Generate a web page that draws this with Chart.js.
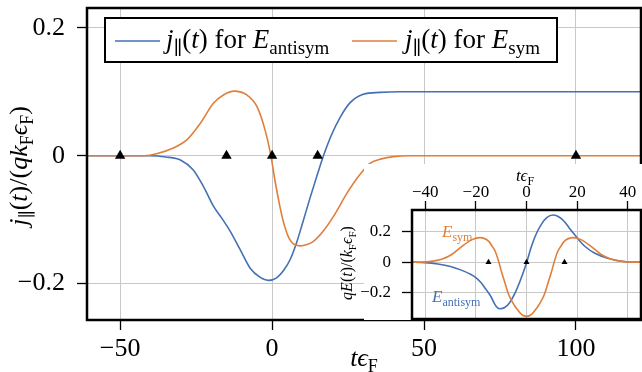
<!DOCTYPE html>
<html>
<head>
<meta charset="utf-8">
<script src="https://cdn.jsdelivr.net/npm/chart.js@4.4.1/dist/chart.umd.min.js"></script>
<style>
  html, body { margin: 0; padding: 0; background: #fff; }
  #wrap { position: relative; width: 642px; height: 372px; }
  #main { position: absolute; left: 0; top: 0; }
  #inset { position: absolute; left: 336px; top: 162px; }
</style>
</head>
<body>
<div id="wrap">
  <canvas id="main" width="642" height="372"></canvas>
  <canvas id="inset" width="306" height="160"></canvas>
</div>
<script>
// main panel: j_par(t) / (q kF eF) for the two pulses
const tAnti = [-61, -40, -35, -30, -26, -22.6, -19.3, -16.5, -13.8, -10.5, -7.2, -4, -1.2, 1.5, 4, 6, 8, 10, 12.5, 15, 17, 19.5, 22.4, 25.7, 30, 35.5, 42, 50, 122];
const jAnti = [0, 0, -0.002, -0.007, -0.022, -0.048, -0.079, -0.098, -0.118, -0.147, -0.176, -0.19, -0.195, -0.191, -0.178, -0.162, -0.137, -0.106, -0.066, -0.028, 0.001, 0.032, 0.06, 0.083, 0.096, 0.099, 0.1, 0.1, 0.1];
const tSym = [-61, -42, -38, -32.5, -28, -23.7, -19.3, -16, -12.5, -8.3, -5, -2.3, -0.4, 1, 2.6, 3.7, 4.8, 5.8, 7, 9.2, 11.5, 13.6, 17, 20.2, 24.6, 26.8, 29.5, 32.2, 36, 40, 45, 122];
const jSym = [0, 0, 0.003, 0.012, 0.025, 0.05, 0.082, 0.095, 0.101, 0.095, 0.077, 0.04, 0, -0.04, -0.08, -0.103, -0.12, -0.131, -0.138, -0.141, -0.139, -0.134, -0.117, -0.095, -0.059, -0.043, -0.026, -0.012, -0.005, -0.0015, 0, 0];
const tMarks = [-50, -15, 0, 15, 100];
const yMarks = [0, 0, 0, 0, 0];
const xTicks = [-50, 0, 50, 100];
const yTicks = [-0.2, 0, 0.2];

// inset: field qE(t) / (kF eF)
const tESym = [-46, -38.5, -33.5, -29.5, -25.5, -21.5, -18.4, -14.8, -13.6, -12.2, -10.9, -9.9, -8.5, -7, -5.5, -4, -2, 0, 2, 4, 5.5, 7, 8.5, 9.9, 10.9, 12.2, 13.6, 14.8, 18.4, 21.5, 25.5, 29.5, 33.5, 38.5, 46];
const eSym = [0, 0.004, 0.019, 0.05, 0.103, 0.147, 0.16, 0.134, 0.105, 0.065, 0, -0.061, -0.135, -0.212, -0.262, -0.3, -0.34, -0.353, -0.34, -0.3, -0.262, -0.212, -0.135, -0.061, 0, 0.065, 0.105, 0.134, 0.16, 0.147, 0.103, 0.05, 0.019, 0.004, 0];
const tEAnti = [-46, -40, -35, -30, -26, -22.4, -20, -18, -16, -14, -12.5, -11.5, -10.5, -8.6, -6.6, -4.5, -2.6, 0, 2, 4, 6, 8, 10.5, 13, 15.1, 17, 19.1, 21, 23, 27, 32, 38.5, 46];
const eAnti = [0, -0.003, -0.012, -0.028, -0.05, -0.076, -0.1, -0.132, -0.177, -0.225, -0.275, -0.296, -0.303, -0.295, -0.262, -0.2, -0.126, -0.005, 0.105, 0.19, 0.25, 0.29, 0.307, 0.293, 0.262, 0.22, 0.177, 0.138, 0.104, 0.058, 0.026, 0.005, 0];
const tMarksInset = [-15, 0, 15];
const yMarksInset = [0, 0, 0];
const xTicksInset = [-40, -20, 0, 20, 40];
const yTicksInset = [-0.2, 0, 0.2];

const serif = "'Liberation Serif', 'Times New Roman', 'DejaVu Serif', serif";
const blue = '#4470b5';
const orange = '#e07f3c';
const gridGray = '#c8c8c8';

function pts(xs, ys) { return xs.map((x, i) => ({ x: x, y: ys[i] })); }
function minus(v) { return String(v).replace('-', '\u2212'); }

// draws text made of pieces: 'i' italic, 'r' roman, 'si'/'sr' subscript
function drawRich(ctx, parts, x, y, size, align) {
  const fontFor = st => {
    const sub = st[0] === 's';
    return (st.endsWith('i') ? 'italic ' : '') + Math.round(sub ? size * 0.7 : size) + 'px ' + serif;
  };
  let w = 0;
  parts.forEach(p => { ctx.font = fontFor(p[1]); w += ctx.measureText(p[0]).width; });
  let cx = align === 'center' ? x - w / 2 : x;
  ctx.textAlign = 'left';
  ctx.textBaseline = 'alphabetic';
  parts.forEach(p => {
    ctx.font = fontFor(p[1]);
    ctx.fillText(p[0], cx, p[1][0] === 's' ? y + size * 0.22 : y);
    cx += ctx.measureText(p[0]).width;
  });
}

function lineSet(xs, ys, color, order) {
  return { data: pts(xs, ys), borderColor: color, borderWidth: 1.6, pointRadius: 0,
           cubicInterpolationMode: 'monotone', fill: false, order: order };
}
function markSet(xs, ys, r) {
  return { data: pts(xs, ys), showLine: false, pointStyle: 'triangle', pointRadius: r,
           pointBackgroundColor: '#000', pointBorderColor: '#000', pointBorderWidth: 0, order: 0 };
}
function axis(min, max, ticks, size, tickLen, pad, fitSize) {
  return {
    type: 'linear', min: min, max: max,
    afterBuildTicks: s => { s.ticks = ticks.map(v => ({ value: v })); },
    afterFit: s => {
      if (s.isHorizontal()) s.height = fitSize; else s.width = fitSize;
      s.paddingTop = s.paddingBottom = s.paddingLeft = s.paddingRight = 0;
    },
    grid: { color: gridGray, lineWidth: 1, tickColor: '#000', tickLength: tickLen, tickWidth: 1.3 },
    border: { display: false },
    ticks: { font: { family: serif, size: size, lineHeight: 1 }, color: '#000', padding: pad,
             maxRotation: 0, autoSkip: false, callback: v => minus(v) }
  };
}

const mainDeco = {
  id: 'mainDeco',
  afterDraw(chart) {
    const ctx = chart.ctx, a = chart.chartArea;
    ctx.save();
    ctx.strokeStyle = '#000';
    ctx.lineWidth = 2.5;
    ctx.strokeRect(a.left, a.top, a.right - a.left, a.bottom - a.top);
    ctx.fillStyle = '#000';
    drawRich(ctx, [['t', 'i'], ['\u03f5', 'i'], ['F', 'sr']], 364, 366, 26, 'center');
    ctx.translate(27, 166);
    ctx.rotate(-Math.PI / 2);
    drawRich(ctx, [['j', 'i'], ['\u2225', 'sr'], ['(', 'r'], ['t', 'i'], [')/(', 'r'], ['qk', 'i'], ['F', 'sr'],
                   ['\u03f5', 'i'], ['F', 'sr'], [')', 'r']], 0, 0, 26, 'center');
    ctx.restore();

    // legend
    ctx.save();
    ctx.fillStyle = '#fff';
    ctx.fillRect(105, 18, 452, 44);
    ctx.strokeStyle = '#000';
    ctx.lineWidth = 2;
    ctx.strokeRect(105, 18, 452, 44);
    ctx.lineWidth = 1.6;
    ctx.strokeStyle = blue;
    ctx.beginPath(); ctx.moveTo(115, 41); ctx.lineTo(160, 41); ctx.stroke();
    ctx.strokeStyle = orange;
    ctx.beginPath(); ctx.moveTo(352, 41); ctx.lineTo(397, 41); ctx.stroke();
    ctx.fillStyle = '#000';
    drawRich(ctx, [['j', 'i'], ['\u2225', 'sr'], ['(', 'r'], ['t', 'i'], [') for ', 'r'], ['E', 'i'], ['antisym', 'sr']], 166, 48, 27, 'left');
    drawRich(ctx, [['j', 'i'], ['\u2225', 'sr'], ['(', 'r'], ['t', 'i'], [') for ', 'r'], ['E', 'i'], ['sym', 'sr']], 405, 48, 27, 'left');
    ctx.restore();
  }
};

const insetDeco = {
  id: 'insetDeco',
  beforeDraw(chart) {
    // white patch that hides the main grid behind the inset
    const ctx = chart.ctx;
    ctx.save();
    ctx.fillStyle = '#fff';
    ctx.fillRect(28, 2, 278, 156);
    ctx.restore();
  },
  afterDraw(chart) {
    const ctx = chart.ctx, a = chart.chartArea;
    ctx.save();
    ctx.strokeStyle = '#000';
    ctx.lineWidth = 2.5;
    ctx.strokeRect(a.left, a.top, a.right - a.left, a.bottom - a.top);
    ctx.fillStyle = orange;
    drawRich(ctx, [['E', 'i'], ['sym', 'sr']], 106, 75, 17, 'left');
    ctx.fillStyle = blue;
    drawRich(ctx, [['E', 'i'], ['antisym', 'sr']], 96, 140, 17, 'left');
    ctx.fillStyle = '#000';
    drawRich(ctx, [['t', 'i'], ['\u03f5', 'i'], ['F', 'sr']], 189, 19, 17, 'center');
    ctx.translate(16, 101);
    ctx.rotate(-Math.PI / 2);
    drawRich(ctx, [['qE', 'i'], ['(', 'r'], ['t', 'i'], [')/(', 'r'], ['k', 'i'], ['F', 'sr'],
                   ['\u03f5', 'i'], ['F', 'sr'], [')', 'r']], 0, 0, 16, 'center');
    ctx.restore();
  }
};

new Chart(document.getElementById('main'), {
  type: 'line',
  data: { datasets: [
    markSet(tMarks, yMarks, 6),
    lineSet(tSym, jSym, orange, 1),
    lineSet(tAnti, jAnti, blue, 2)
  ] },
  options: {
    responsive: false, animation: false, devicePixelRatio: 1,
    layout: { autoPadding: false, padding: { top: 8, right: 1, left: 0, bottom: 0 } },
    plugins: { legend: { display: false }, tooltip: { enabled: false } },
    scales: {
      x: axis(-60.9, 121.4, xTicks, 26, 10, 6, 52),
      y: axis(-0.257, 0.231, yTicks, 26, 10, 12, 87)
    }
  },
  plugins: [mainDeco]
});

new Chart(document.getElementById('inset'), {
  type: 'line',
  data: { datasets: [
    markSet(tMarksInset, yMarksInset, 3.5),
    lineSet(tESym, eSym, orange, 1),
    lineSet(tEAnti, eAnti, blue, 2)
  ] },
  options: {
    responsive: false, animation: false, devicePixelRatio: 1,
    layout: { autoPadding: false, padding: { top: 0, right: 1, left: 0, bottom: 3 } },
    plugins: { legend: { display: false }, tooltip: { enabled: false } },
    scales: {
      x: Object.assign(axis(-45.2, 45.2, xTicksInset, 17, 9, 0, 48), { position: 'top' }),
      y: axis(-0.37, 0.34, yTicksInset, 17, 10, 11, 76)
    }
  },
  plugins: [insetDeco]
});
</script>
</body>
</html>
